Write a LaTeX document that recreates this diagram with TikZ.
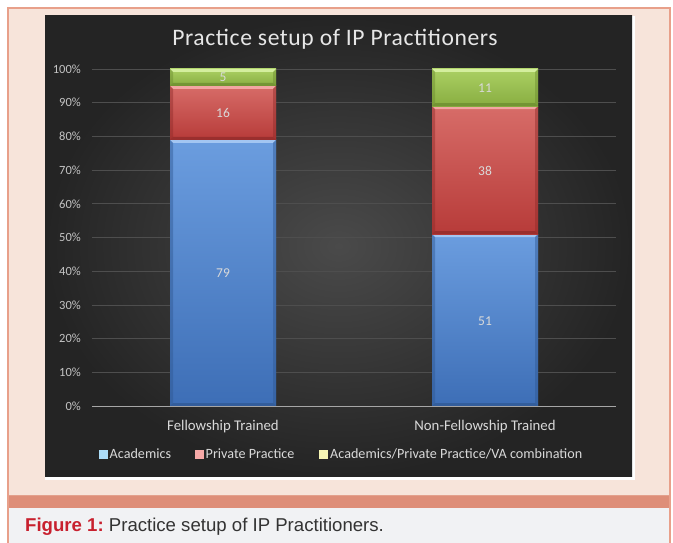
\documentclass[tikz,border=0pt]{standalone}
\usepackage{fontspec}
\setmainfont{Carlito}
\newfontfamily\arialf{Liberation Sans}
\newfontfamily\titlef[LetterSpace=2.5]{Carlito}
\definecolor{pagebg}{HTML}{F7E4DA}
\definecolor{pageborder}{HTML}{E8A08A}
\definecolor{band}{HTML}{DE8E78}
\definecolor{bandline}{HTML}{E3A08C}
\definecolor{capbg}{HTML}{F1F2F4}
\definecolor{capred}{HTML}{C8202E}
\definecolor{captext}{HTML}{333333}
\definecolor{chartin}{HTML}{4A4A4A}
\definecolor{chartout}{HTML}{242424}
\definecolor{gridc}{HTML}{4E4E4E}
\definecolor{axisc}{HTML}{A6A6A6}
\definecolor{ticktext}{HTML}{C4C4C4}
\definecolor{labtext}{HTML}{D9D9D9}
\definecolor{titletext}{HTML}{E6E6E6}
\definecolor{blueT}{HTML}{6B9DDF}
\definecolor{blueB}{HTML}{3D6EB6}
\definecolor{blueH}{HTML}{A3C6F2}
\definecolor{blueD}{HTML}{2F5791}
\definecolor{redT}{HTML}{D76C68}
\definecolor{redB}{HTML}{B73B39}
\definecolor{redH}{HTML}{F2A6A2}
\definecolor{redD}{HTML}{8E2A29}
\definecolor{greenT}{HTML}{ABD064}
\definecolor{greenB}{HTML}{88AD40}
\definecolor{greenH}{HTML}{D4EE9E}
\definecolor{greenD}{HTML}{6A8A2E}
\definecolor{legblue}{HTML}{ABDCF7}
\definecolor{legred}{HTML}{F6A9A7}
\definecolor{legyellow}{HTML}{F6F5B4}
\tikzset{
  ticklab/.style={anchor=east, text=ticktext, font=\fontsize{12.5}{14}\selectfont, inner sep=0pt},
  datalab/.style={text=labtext, font=\fontsize{13.5}{16}\selectfont, inner sep=0pt},
  catlab/.style={text=labtext, font=\fontsize{14.8}{17}\selectfont, inner sep=0pt, anchor=base},
  leglab/.style={text=labtext, font=\fontsize{14.15}{16}\selectfont, inner sep=0pt, anchor=base west},
  legbox/.style={draw=none, minimum width=9pt, minimum height=9pt, inner sep=0pt, anchor=south west},
  gridline/.style={draw=gridc, line width=0.8pt},
}
% #1 x1, #2 x2, #3 ytop, #4 ybot, #5 colour prefix
\newcommand\barseg[5]{%
  \shade[top color=#5T, bottom color=#5B] (#1,#3) rectangle (#2,#4);
  \fill[#5H] (#1,#3) -- (#2,#3) -- (#2-3,#3+3) -- (#1+3,#3+3) -- cycle;
  \fill[#5D, opacity=0.45] (#1,#3) -- (#1+3,#3+3) -- (#1+3,#4-3) -- (#1,#4) -- cycle;
  \fill[#5D, opacity=0.45] (#2,#3) -- (#2-3,#3+3) -- (#2-3,#4-3) -- (#2,#4) -- cycle;
  \fill[#5D, opacity=0.7] (#1,#4) -- (#2,#4) -- (#2-3,#4-3) -- (#1+3,#4-3) -- cycle;
}
\begin{document}
\begin{tikzpicture}[x=1pt,y=-1pt]
\useasboundingbox (0,0) rectangle (673,543);
% page
\fill[white] (0,0) rectangle (673,543);
\fill[pagebg] (8,8) rectangle (670,543);
\draw[pageborder, line width=1.2pt] (8,543) -- (8,8) -- (670,8) -- (670,543);
% chart area
\fill[white] (45,16) rectangle (635,480);
\shade[inner color=chartin, outer color=chartout] (45,16) rectangle (632,476);
% band and caption
\fill[band] (8.6,495) rectangle (669.4,508);
\draw[bandline, line width=0.8pt] (8.6,495) -- (669.4,495);
\fill[capbg] (8.6,508) rectangle (669.4,543);
% title
\node[text=titletext, font=\titlef\fontsize{23.6}{27}\selectfont, anchor=base, inner sep=0pt] (title) at (335,46) {Practice setup of IP Practitioners};
% gridlines
\foreach \k in {1,...,10} {
  \draw[gridline] (92,406-33.7*\k) -- (616,406-33.7*\k);
}
% tick labels
\foreach \k/\nm in {0/t0,1/t1,2/t2,3/t3,4/t4,5/t5,6/t6,7/t7,8/t8,9/t9,10/t10} {
  \pgfmathtruncatemacro\pct{10*\k}
  \node[ticklab] (\nm) at (81,406-33.7*\k) {\pct\%};
}
% bars
\barseg{170}{276}{139.8}{406}{blue}
\barseg{170}{276}{85.8}{139.8}{red}
\barseg{170}{276}{69}{85.8}{green}
\barseg{432}{538}{234.1}{406}{blue}
\barseg{432}{538}{106.1}{234.1}{red}
\barseg{432}{538}{69}{106.1}{green}
% axis line
\draw[axisc, line width=1pt] (92,406) -- (616,406);
% data labels
\node[datalab] (d79) at (223,273) {79};
\node[datalab] (d16) at (223,113) {16};
\node[datalab] (d5) at (223,77) {5};
\node[datalab] (d51) at (485,321) {51};
\node[datalab] (d38) at (485,171) {38};
\node[datalab] (d11) at (485,88) {11};
% category labels
\node[catlab] (c1) at (223,430) {Fellowship Trained};
\node[catlab] (c2) at (485,430) {Non-Fellowship Trained};
% legend
\node[legbox, fill=legblue] (lb1) at (98.5,459.5) {};
\node[leglab] (ll1) at (109.5,458.7) {Academics};
\node[legbox, fill=legred] (lb2) at (194.5,459.5) {};
\node[leglab] (ll2) at (205.5,458.7) {Private Practice};
\node[legbox, fill=legyellow] (lb3) at (319,459.5) {};
\node[leglab] (ll3) at (330,458.7) {Academics/Private Practice/VA combination};
% caption
\node[anchor=base west, inner sep=0pt, font=\arialf\fontsize{18.6}{21}\selectfont] (cap) at (25,531.5) {{\color{capred}\bfseries Figure 1:}\ {\color{captext}Practice setup of IP Practitioners.}};
\end{tikzpicture}
\end{document}
